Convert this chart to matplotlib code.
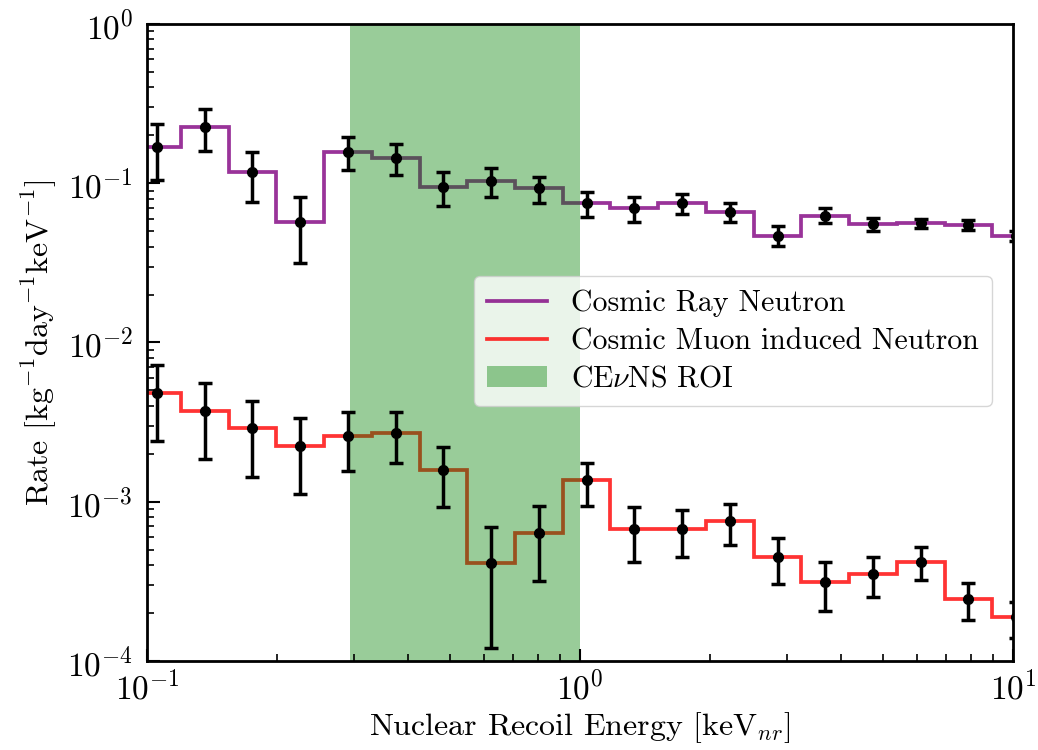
import numpy as np
import matplotlib
matplotlib.use('Agg')
import matplotlib.pyplot as plt

plt.rcParams['font.family'] = 'serif'
plt.rcParams['font.serif'] = ['cmr10']
plt.rcParams['mathtext.fontset'] = 'cm'
plt.rcParams['axes.formatter.use_mathtext'] = True
plt.rcParams['axes.unicode_minus'] = False

# log-spaced energy bins [keVnr]
edges = np.logspace(-1.032, 1.062, 20)
centers = np.sqrt(edges[:-1] * edges[1:])

# cosmic ray neutron rate [/kg/day/keV]
cr_rate = [0.170, 0.227, 0.117, 0.0569, 0.158, 0.1435, 0.0952, 0.103, 0.0929, 0.0749,
           0.0696, 0.0756, 0.0664, 0.0469, 0.0626, 0.0553, 0.0561, 0.0547, 0.0467]
cr_lo = [0.105, 0.160, 0.076, 0.0315, 0.121, 0.112, 0.0723, 0.0817, 0.0756, 0.0611,
         0.0574, 0.0642, 0.0569, 0.0404, 0.0561, 0.0502, 0.0527, 0.0509, 0.0435]
cr_hi = [0.234, 0.293, 0.158, 0.0817, 0.196, 0.176, 0.118, 0.124, 0.110, 0.0886,
         0.0817, 0.0857, 0.0756, 0.054, 0.0696, 0.0603, 0.0597, 0.0589, 0.050]

# cosmic muon induced neutron rate
mu_rate = [0.00481, 0.00372, 0.0029, 0.00224, 0.0026, 0.00272, 0.00158, 0.000411, 0.000635, 0.00136,
           0.000673, 0.000673, 0.000752, 0.000449, 0.000313, 0.000351, 0.000418, 0.000245, 0.00019]
mu_lo = [0.00241, 0.00186, 0.00144, 0.00112, 0.00155, 0.00175, 0.000933, 0.000120, 0.000319, 0.000946,
         0.000416, 0.000449, 0.000536, 0.000305, 0.000207, 0.000254, 0.000324, 0.000180, 0.00014]
mu_hi = [0.00723, 0.00555, 0.00432, 0.00338, 0.00368, 0.00365, 0.00222, 0.000698, 0.000946, 0.00175,
         0.000925, 0.000889, 0.000966, 0.000591, 0.000418, 0.000449, 0.000516, 0.000308, 0.000235]

roi = (0.295, 1.0)

cr_rate, cr_lo, cr_hi = np.array(cr_rate), np.array(cr_lo), np.array(cr_hi)
mu_rate, mu_lo, mu_hi = np.array(mu_rate), np.array(mu_lo), np.array(mu_hi)

fig = plt.figure(figsize=(10.38, 7.5), dpi=100)
ax = fig.add_axes([0.1416, 0.1187, 0.8345, 0.8493])

ax.stairs(cr_rate, edges, color='purple', alpha=0.8, lw=2.7, baseline=None, label='Cosmic Ray Neutron')
ax.stairs(mu_rate, edges, color='red', alpha=0.8, lw=2.7, baseline=None, label='Cosmic Muon induced Neutron')
ax.axvspan(roi[0], roi[1], color='green', alpha=0.4, lw=0, label=r'CE$\nu$NS ROI')

ax.errorbar(centers, cr_rate, yerr=[cr_rate - cr_lo, cr_hi - cr_rate], fmt='o', color='black',
            ms=7, elinewidth=2.5, capsize=5, capthick=2.5, zorder=5)
ax.errorbar(centers, mu_rate, yerr=[mu_rate - mu_lo, mu_hi - mu_rate], fmt='o', color='black',
            ms=7, elinewidth=2.5, capsize=5, capthick=2.5, zorder=5)

ax.set_xscale('log')
ax.set_yscale('log')
ax.set_xlim(0.1, 10)
ax.set_ylim(1e-4, 1)

ax.set_xlabel(r'Nuclear Recoil Energy [keV$_{nr}$]', fontsize=23, labelpad=4)
ax.set_ylabel(r'Rate [kg$^{-1}$day$^{-1}$keV$^{-1}$]', fontsize=23, labelpad=6)
ax.tick_params(which='both', direction='in', labelsize=24)
ax.tick_params(which='major', length=9, width=1.5)
ax.tick_params(which='minor', length=5, width=1.2)
ax.tick_params(axis='x', which='major', pad=6)
ax.tick_params(axis='y', which='major', pad=10)
for s in ax.spines.values():
    s.set_linewidth(2)

ax.legend(loc='upper left', bbox_to_anchor=(0.377, 0.604), borderaxespad=0, fontsize=21.5,
          frameon=True, handlelength=2.0, borderpad=0.45, labelspacing=0.35)

plt.savefig('out.png', dpi=100)
